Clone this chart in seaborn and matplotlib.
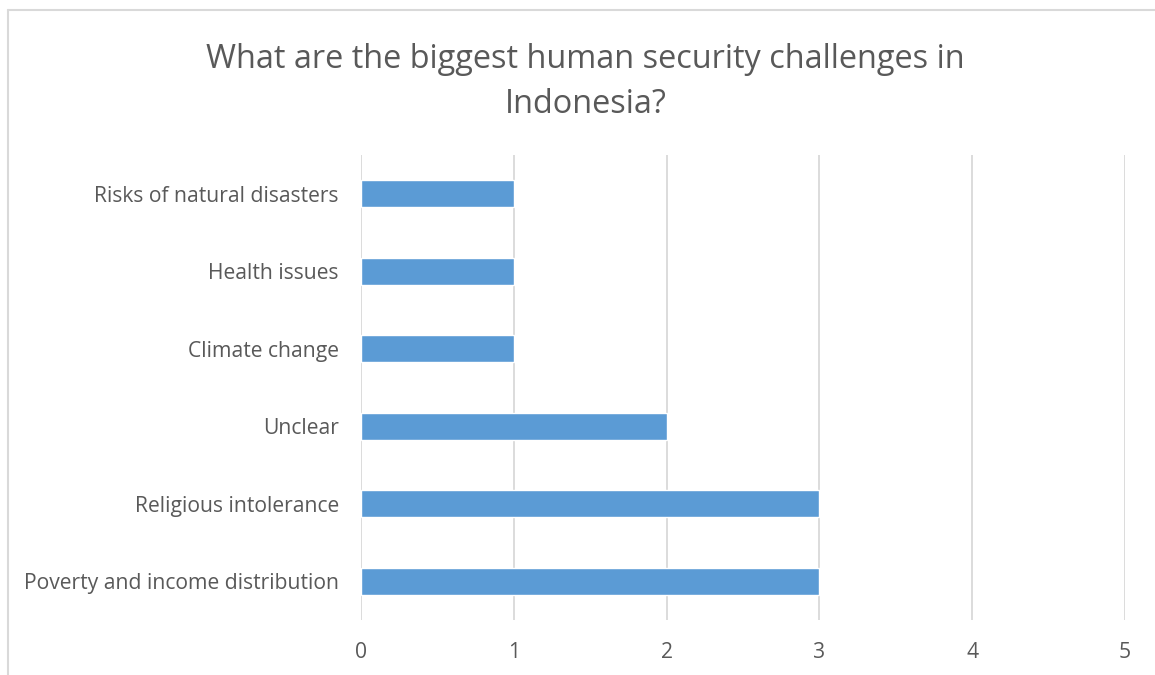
import matplotlib
matplotlib.use('Agg')
import matplotlib.pyplot as plt
import seaborn as sns
import pandas as pd
from matplotlib.lines import Line2D

# data
categories = ['Risks of natural disasters', 'Health issues', 'Climate change',
              'Unclear', 'Religious intolerance', 'Poverty and income distribution']
counts = [1, 1, 1, 2, 3, 3]
x_ticks = [0, 1, 2, 3, 4, 5]

df = pd.DataFrame({'challenge': categories, 'count': counts})

sns.set_style('white')
plt.rcParams['font.family'] = ['Open Sans', 'DejaVu Sans']

text_col = '#595959'
grid_col = '#d9d9d9'

fig = plt.figure(figsize=(11.55, 6.75), dpi=100)
ax = fig.add_axes([0.3126, 0.0815, 0.974 - 0.3126, 0.7704 - 0.0815])

sns.barplot(data=df, y='challenge', x='count', color='#5b9bd5',
            width=0.35, saturation=1, ax=ax, zorder=3)

ax.set_xlim(0, 5)
ax.set_ylim(5.5, -0.5)
ax.set_xticks(x_ticks)
ax.set_xticklabels([str(t) for t in x_ticks])
ax.grid(axis='x', color=grid_col, linewidth=1.3, zorder=0)
ax.set_axisbelow(True)
for s in ax.spines.values():
    s.set_visible(False)
ax.tick_params(axis='both', length=0, labelsize=15.2, labelcolor=text_col)
ax.tick_params(axis='y', pad=16)
ax.tick_params(axis='x', pad=16)
ax.set_xlabel('')
ax.set_ylabel('')

fig.suptitle('What are the biggest human security challenges in\nIndonesia?',
             x=0.507, y=0.937, fontsize=23.4, color=text_col, linespacing=1.48)

# chart border (only top and left edges are inside the picture)
fig.add_artist(Line2D([8 / 1155, 8 / 1155], [0, 1 - 10 / 675],
                      transform=fig.transFigure, color=grid_col, linewidth=1.5))
fig.add_artist(Line2D([8 / 1155, 1], [1 - 10 / 675, 1 - 10 / 675],
                      transform=fig.transFigure, color=grid_col, linewidth=1.5))

fig.savefig('out.png', dpi=100)
